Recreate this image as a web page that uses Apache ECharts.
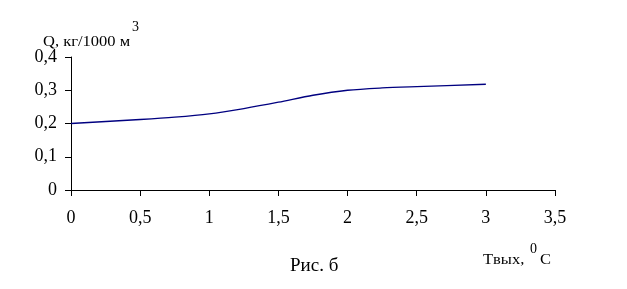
<!DOCTYPE html>
<html><head><meta charset="utf-8">
<script src="https://cdn.jsdelivr.net/npm/echarts@6/dist/echarts.min.js"></script>
<style>html,body{margin:0;padding:0;background:#fff}#c{width:627px;height:289px}</style>
</head><body><div id="c"></div>
<script>
const xValues = [0, 0.5, 0.75, 1, 1.25, 1.5, 1.75, 2, 2.25, 2.5, 3];
const qValues = [0.200, 0.212, 0.219, 0.229, 0.245, 0.264, 0.285, 0.300, 0.307, 0.311, 0.318];
const yAxisName = 'Q, кг/1000 м';
const yAxisSup = '3';
const xAxisName = 'Tвых,';
const xAxisUnit = 'C';
const xAxisSup = '0';
const caption = 'Рис. б';

const serif = '"Liberation Serif", "Times New Roman", serif';
const fmt = v => String(v).replace('.', ',');
const chart = echarts.init(document.getElementById('c'));
chart.setOption({
  animation: false,
  backgroundColor: '#fff',
  grid: {left: 71, right: 72, top: 57, bottom: 99},
  xAxis: {
    type: 'value', min: 0, max: 3.5, interval: 0.5,
    axisLine: {lineStyle: {color: '#000', width: 1}},
    axisTick: {length: 6, lineStyle: {color: '#000'}},
    splitLine: {show: false},
    axisLabel: {color: '#000', fontFamily: serif, fontSize: 18, margin: 19, formatter: fmt}
  },
  yAxis: {
    type: 'value', min: 0, max: 0.4, interval: 0.1,
    axisLine: {show: true, lineStyle: {color: '#000', width: 1}},
    axisTick: {show: true, length: 6, lineStyle: {color: '#000'}},
    splitLine: {show: false},
    axisLabel: {color: '#000', fontFamily: serif, fontSize: 18, margin: 14, formatter: fmt}
  },
  series: [{
    type: 'line', smooth: 0.3, symbol: 'none',
    lineStyle: {color: '#000080', width: 1.3},
    data: xValues.map((x, i) => [x, qValues[i]])
  }],
  graphic: [
    {type: 'text', x: 43, y: 35, scaleX: 1.1, style: {text: yAxisName, font: '15px ' + serif, fill: '#000'}},
    {type: 'text', x: 132, y: 20, style: {text: yAxisSup, font: '14px ' + serif, fill: '#000'}},
    {type: 'text', x: 483, y: 253, scaleX: 1.1, style: {text: xAxisName, font: '15px ' + serif, fill: '#000'}},
    {type: 'text', x: 540, y: 253, scaleX: 1.1, style: {text: xAxisUnit, font: '15px ' + serif, fill: '#000'}},
    {type: 'text', x: 530, y: 242, style: {text: xAxisSup, font: '14px ' + serif, fill: '#000'}},
    {type: 'text', x: 290, y: 257, style: {text: caption, font: '19px ' + serif, fill: '#000'}}
  ]
});
</script></body></html>
